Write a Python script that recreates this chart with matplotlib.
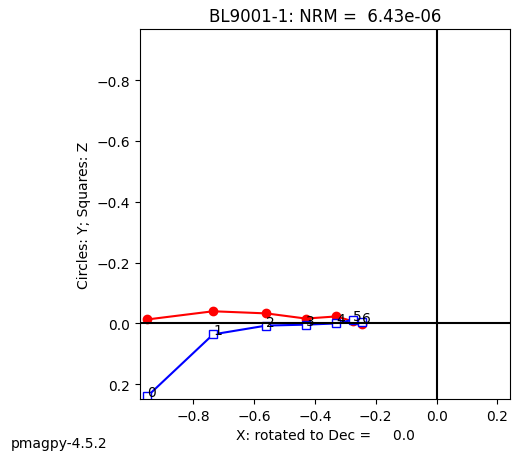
import matplotlib
matplotlib.use("Agg")
import matplotlib.pyplot as plt

steps = ["0", "1", "2", "3", "4", "5", "6"]
x_vals = [-0.952, -0.735, -0.56, -0.43, -0.33, -0.275, -0.245]
y_vals = [-0.013, -0.040, -0.033, -0.016, -0.023, -0.007, 0.002]
z_vals = [0.240, 0.036, 0.007, 0.004, 0.000, -0.012, -0.006]

fig = plt.figure(figsize=(5.19, 4.6), dpi=100)
ax = fig.add_axes([0.270, 0.130, 0.713, 0.805])
ax.plot(x_vals, y_vals, 'r-')
ax.plot(x_vals, y_vals, 'ro')
ax.plot(x_vals, z_vals, 'b-')
ax.plot(x_vals, z_vals, 'bs', markerfacecolor='white')
for s, x, z in zip(steps, x_vals, z_vals):
    ax.text(x, z, s, fontsize=10)
ax.axhline(0, color='k')
ax.axvline(0, color='k')
ax.set_xlim(-0.975, 0.242)
ax.set_ylim(0.249, -0.968)
ax.set_xticks([-0.8, -0.6, -0.4, -0.2, 0.0, 0.2])
ax.set_yticks([-0.8, -0.6, -0.4, -0.2, 0.0, 0.2])
ax.set_xlabel("X: rotated to Dec =     0.0")
ax.set_ylabel("Circles: Y; Squares: Z")
ax.set_title("BL9001-1: NRM =  6.43e-06")
fig.text(0.02, 0.025, "pmagpy-4.5.2")
fig.savefig("out.png", dpi=100)
